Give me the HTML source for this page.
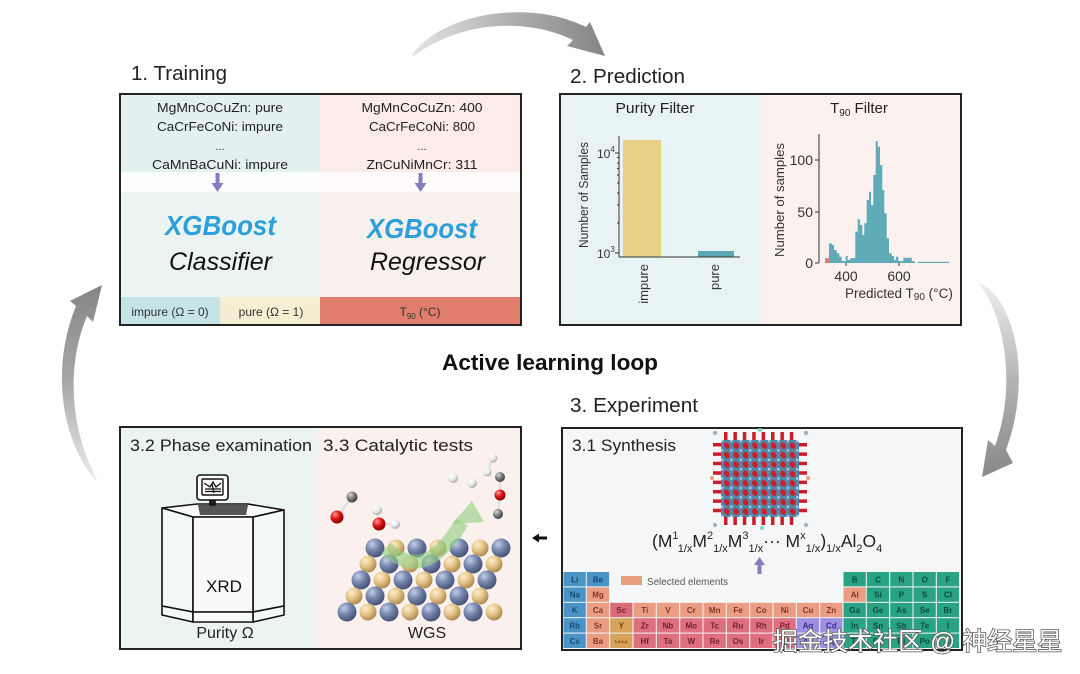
<!DOCTYPE html>
<html>
<head>
<meta charset="utf-8">
<style>
html,body{margin:0;padding:0;background:#fff;width:1080px;height:674px;overflow:hidden}
svg{display:block}
text{font-family:"Liberation Sans","Noto Sans CJK SC",sans-serif}
</style>
</head>
<body>
<svg width="1080" height="674" viewBox="0 0 1080 674" xmlns="http://www.w3.org/2000/svg">
<defs>
  <linearGradient id="gTop" gradientUnits="userSpaceOnUse" x1="412" y1="0" x2="605" y2="0">
    <stop offset="0" stop-color="#e6e6e6"/><stop offset="0.5" stop-color="#b0b0b0"/><stop offset="1" stop-color="#858585"/>
  </linearGradient>
  <linearGradient id="gLeft" gradientUnits="userSpaceOnUse" x1="0" y1="480" x2="0" y2="285">
    <stop offset="0" stop-color="#ececec"/><stop offset="0.5" stop-color="#a8a8a8"/><stop offset="1" stop-color="#858585"/>
  </linearGradient>
  <linearGradient id="gRight" gradientUnits="userSpaceOnUse" x1="0" y1="283" x2="0" y2="477">
    <stop offset="0" stop-color="#eeeeee"/><stop offset="0.5" stop-color="#b4b4b4"/><stop offset="1" stop-color="#888888"/>
  </linearGradient>
  <radialGradient id="sb" cx="35%" cy="30%" r="70%">
    <stop offset="0" stop-color="#c3cde6"/><stop offset="0.5" stop-color="#7686ae"/><stop offset="1" stop-color="#48557a"/>
  </radialGradient>
  <radialGradient id="st" cx="35%" cy="30%" r="70%">
    <stop offset="0" stop-color="#fcefcf"/><stop offset="0.5" stop-color="#e6c68c"/><stop offset="1" stop-color="#b08c52"/>
  </radialGradient>
  <radialGradient id="sg" cx="35%" cy="30%" r="70%">
    <stop offset="0" stop-color="#d8d8d8"/><stop offset="0.5" stop-color="#808080"/><stop offset="1" stop-color="#404040"/>
  </radialGradient>
  <radialGradient id="sr" cx="35%" cy="30%" r="70%">
    <stop offset="0" stop-color="#ff9a9a"/><stop offset="0.5" stop-color="#e01515"/><stop offset="1" stop-color="#8a0000"/>
  </radialGradient>
  <radialGradient id="sw" cx="35%" cy="30%" r="70%">
    <stop offset="0" stop-color="#ffffff"/><stop offset="0.6" stop-color="#e8e8e8"/><stop offset="1" stop-color="#a8a8a8"/>
  </radialGradient>
  <pattern id="redDots" patternUnits="userSpaceOnUse" x="722" y="441" width="9.4" height="9.4">
    <ellipse cx="4.7" cy="4.7" rx="2.6" ry="3.4" fill="#cc1d28" transform="rotate(-30 4.7 4.7)"/>
  </pattern>
  <pattern id="cyDots" patternUnits="userSpaceOnUse" x="726.7" y="445.7" width="9.4" height="9.4">
    <circle cx="4.7" cy="4.7" r="1.2" fill="#a8e0ea"/>
  </pattern>
</defs>

<!-- ===== Curved arrows ===== -->
<path d="M412,55 C440,14 528,-2 586,27 L590,22 L605,56 L567,46 L573,40 C528,18 462,20 414,56 Z" fill="url(#gTop)"/>
<path d="M95,480 C62,440 50,370 76,306 L70,301 L102,285 L93,322 L87,316 C66,365 70,430 97,479 Z" fill="url(#gLeft)"/>
<path d="M980,283 C1016,300 1032,380 1006,450 L1013,463 L982,477 L988,440 L995,446 C1016,388 1006,320 980,285 Z" fill="url(#gRight)"/>

<!-- ===== 1. Training ===== -->
<text x="131" y="80" font-size="20" fill="#222" textLength="96" lengthAdjust="spacingAndGlyphs">1. Training</text>
<rect x="120" y="94" width="200" height="78" fill="#e4f1f1"/>
<rect x="320" y="94" width="201" height="78" fill="#fbece7"/>
<rect x="120" y="172" width="200" height="20" fill="#fcfefe"/>
<rect x="320" y="172" width="201" height="20" fill="#fffbfa"/>
<rect x="120" y="192" width="200" height="105" fill="#ecf4f3"/>
<rect x="320" y="192" width="201" height="105" fill="#f8f0ed"/>
<rect x="120" y="297" width="100" height="28" fill="#c6e3e7"/>
<rect x="220" y="297" width="100" height="28" fill="#f5eed3"/>
<rect x="320" y="297" width="201" height="28" fill="#e07d6d"/>
<rect x="120" y="94" width="401" height="231" fill="none" stroke="#222" stroke-width="2"/>

<g font-size="13" fill="#222" text-anchor="middle">
  <text x="220" y="112" textLength="126" lengthAdjust="spacingAndGlyphs">MgMnCoCuZn: pure</text>
  <text x="220" y="131" textLength="126" lengthAdjust="spacingAndGlyphs">CaCrFeCoNi: impure</text>
  <text x="220" y="150" font-size="11">...</text>
  <text x="220" y="169" textLength="136" lengthAdjust="spacingAndGlyphs">CaMnBaCuNi: impure</text>
  <text x="422" y="112" textLength="121" lengthAdjust="spacingAndGlyphs">MgMnCoCuZn: 400</text>
  <text x="422" y="131" textLength="106" lengthAdjust="spacingAndGlyphs">CaCrFeCoNi: 800</text>
  <text x="422" y="150" font-size="11">...</text>
  <text x="422" y="169" textLength="111" lengthAdjust="spacingAndGlyphs">ZnCuNiMnCr: 311</text>
</g>
<!-- purple arrows -->
<g fill="#857cbf">
  <rect x="215.5" y="173" width="4" height="11"/><polygon points="211.5,183 223.5,183 217.5,192"/>
  <rect x="418.5" y="173" width="4" height="11"/><polygon points="414.5,183 426.5,183 420.5,192"/>
</g>
<text x="165" y="235" font-size="28" font-weight="bold" font-style="italic" fill="#2d9fd9" textLength="111" lengthAdjust="spacingAndGlyphs">XGBoost</text>
<text x="367" y="238" font-size="28" font-weight="bold" font-style="italic" fill="#2d9fd9" textLength="110" lengthAdjust="spacingAndGlyphs">XGBoost</text>
<text x="169" y="270" font-size="25" font-style="italic" fill="#111" textLength="103" lengthAdjust="spacingAndGlyphs">Classifier</text>
<text x="370" y="270" font-size="25" font-style="italic" fill="#111" textLength="115" lengthAdjust="spacingAndGlyphs">Regressor</text>
<g font-size="12" fill="#333" text-anchor="middle">
  <text x="170" y="316">impure (Ω = 0)</text>
  <text x="271" y="316">pure (Ω = 1)</text>
  <text x="420" y="316">T<tspan font-size="8" dy="3">90</tspan><tspan dy="-3"> (°C)</tspan></text>
</g>

<!-- ===== 2. Prediction ===== -->
<text x="570" y="83" font-size="20" fill="#222" textLength="115" lengthAdjust="spacingAndGlyphs">2. Prediction</text>
<rect x="560" y="94" width="201" height="231" fill="#e8f3f3"/>
<rect x="761" y="94" width="200" height="231" fill="#fbf2ef"/>
<rect x="560" y="94" width="401" height="231" fill="none" stroke="#222" stroke-width="2"/>

<text x="655" y="113" font-size="15" fill="#222" text-anchor="middle" textLength="79" lengthAdjust="spacingAndGlyphs">Purity Filter</text>
<text x="859" y="113" font-size="15" fill="#222" text-anchor="middle">T<tspan font-size="10" dy="3">90</tspan><tspan dy="-3"> Filter</tspan></text>

<!-- purity bar chart -->
<rect x="623" y="140" width="38" height="117" fill="#e8cf88"/>
<rect x="698" y="251" width="36" height="6" fill="#5aa8b6"/>
<line x1="619" y1="136" x2="619" y2="257" stroke="#333" stroke-width="1"/>
<line x1="619" y1="257" x2="740" y2="257" stroke="#333" stroke-width="1"/>
<g stroke="#333" stroke-width="1">
  <line x1="615" y1="153" x2="619" y2="153"/>
  <line x1="615" y1="253" x2="619" y2="253"/>
  <line x1="617" y1="223" x2="619" y2="223"/>
  <line x1="617" y1="205" x2="619" y2="205"/>
  <line x1="617" y1="193" x2="619" y2="193"/>
  <line x1="617" y1="183" x2="619" y2="183"/>
  <line x1="617" y1="175" x2="619" y2="175"/>
  <line x1="617" y1="168.5" x2="619" y2="168.5"/>
  <line x1="617" y1="163" x2="619" y2="163"/>
  <line x1="617" y1="157.5" x2="619" y2="157.5"/>
</g>
<g font-size="12" fill="#333">
  <text x="597" y="158">10<tspan font-size="8" dy="-6">4</tspan></text>
  <text x="597" y="258">10<tspan font-size="8" dy="-6">3</tspan></text>
</g>
<text transform="translate(588,195) rotate(-90)" font-size="12.5" fill="#333" text-anchor="middle" textLength="106" lengthAdjust="spacingAndGlyphs">Number of Samples</text>
<text transform="translate(648,264) rotate(-90)" font-size="13" fill="#333" text-anchor="end">impure</text>
<text transform="translate(719,264) rotate(-90)" font-size="13" fill="#333" text-anchor="end">pure</text>

<!-- histogram -->
<rect x="825" y="258.3" width="4" height="4.7" fill="#df7a6a"/>
<path d="M829,263 V243.3 H831.7 V245 H834 V250 H836.7 V253.3 H839.3 V256.7 H841.7 V261 H845.7 V256 H847.7 V260 H850 V258.3 H855.3 V231.7 H857.7 V219.3 H860 V225 H862.3 V235 H864.3 V223.3 H866.7 V200 H869 V191.7 H871 V205 H873.3 V175 H875.7 V141 H877.7 V146.7 H880 V165 H882.3 V190 H884.3 V213.3 H886.7 V238.3 H889 V253.3 H891.7 V256 H894 V260 H896 V256.7 H898.3 V261 H903.3 V257.7 H911.7 V261.3 H915 V263 Z" fill="#5fabb8"/>
<rect x="918" y="261.8" width="31" height="1.2" fill="#5fabb8"/>
<line x1="819" y1="134" x2="819" y2="263" stroke="#333" stroke-width="1"/>
<g stroke="#333" stroke-width="1">
  <line x1="815" y1="160" x2="819" y2="160"/>
  <line x1="815" y1="212" x2="819" y2="212"/>
  <line x1="815" y1="263" x2="819" y2="263"/>
  <line x1="846" y1="263" x2="846" y2="266"/>
  <line x1="899" y1="263" x2="899" y2="266"/>
</g>
<g font-size="14" fill="#333" text-anchor="end">
  <text x="813" y="165">100</text>
  <text x="813" y="217">50</text>
  <text x="813" y="268">0</text>
</g>
<g font-size="14" fill="#333" text-anchor="middle">
  <text x="846" y="281">400</text>
  <text x="899" y="281">600</text>
</g>
<text x="845" y="298" font-size="13.5" fill="#333">Predicted T<tspan font-size="10" dy="2">90</tspan><tspan dy="-2"> (°C)</tspan></text>
<text transform="translate(784,200) rotate(-90)" font-size="13" fill="#333" text-anchor="middle" textLength="114" lengthAdjust="spacingAndGlyphs">Number of samples</text>

<!-- ===== Active learning loop ===== -->
<text x="550" y="370" font-size="22" font-weight="bold" fill="#111" text-anchor="middle" textLength="216" lengthAdjust="spacingAndGlyphs">Active learning loop</text>

<!-- ===== 3. Experiment ===== -->
<text x="570" y="412" font-size="20" fill="#222" textLength="128" lengthAdjust="spacingAndGlyphs">3. Experiment</text>
<rect x="562" y="428" width="400" height="222" fill="#f5f6f8" stroke="#222" stroke-width="2"/>
<text x="572" y="451" font-size="17" fill="#222" textLength="104" lengthAdjust="spacingAndGlyphs">3.1 Synthesis</text>

<!-- crystal -->
<g>
  <line x1="724" y1="436" x2="798" y2="436" stroke="#c81e28" stroke-width="8" stroke-dasharray="3.5 5.9"/>
  <line x1="724" y1="521" x2="798" y2="521" stroke="#c81e28" stroke-width="8" stroke-dasharray="3.5 5.9"/>
  <line x1="717" y1="443" x2="717" y2="516" stroke="#c81e28" stroke-width="8" stroke-dasharray="3.5 5.9"/>
  <line x1="803" y1="443" x2="803" y2="516" stroke="#c81e28" stroke-width="8" stroke-dasharray="3.5 5.9"/>
  <rect x="721" y="440" width="78" height="77" rx="3" fill="#5785a5"/>
  <rect x="721" y="440" width="78" height="77" fill="url(#cyDots)"/>
  <rect x="721" y="440" width="78" height="77" fill="url(#redDots)"/>
  <g fill="#9fb4bf">
    <circle cx="715" cy="433" r="2.2"/><circle cx="806" cy="433" r="2.2"/>
    <circle cx="715" cy="525" r="2.2"/><circle cx="806" cy="525" r="2.2"/>
    <circle cx="760" cy="430" r="2" fill="#7fd2c8"/><circle cx="762" cy="528" r="2" fill="#7fd2c8"/>
    <circle cx="712" cy="478" r="2" fill="#e0a070"/><circle cx="808" cy="478" r="2" fill="#e0a070"/>
  </g>
</g>
<!-- formula -->
<text x="652" y="547" font-size="17.5" fill="#222">(M<tspan font-size="11" dy="-8">1</tspan><tspan font-size="11" dy="13">1/x</tspan><tspan dy="-5">M</tspan><tspan font-size="11" dy="-8">2</tspan><tspan font-size="11" dy="13">1/x</tspan><tspan dy="-5">M</tspan><tspan font-size="11" dy="-8">3</tspan><tspan font-size="11" dy="13">1/x</tspan><tspan dy="-5">··· M</tspan><tspan font-size="11" dy="-8">x</tspan><tspan font-size="11" dy="13">1/x</tspan><tspan dy="-5">)</tspan><tspan font-size="11" dy="5">1/x</tspan><tspan dy="-5">Al</tspan><tspan font-size="11" dy="5">2</tspan><tspan dy="-5">O</tspan><tspan font-size="11" dy="5">4</tspan></text>
<g fill="#857cbf">
  <polygon points="759.5,557 754,565 765,565"/>
  <rect x="757.5" y="564" width="4" height="10"/>
</g>

<!-- legend -->
<rect x="621" y="576" width="21" height="9" fill="#eb9d83"/>
<text x="647" y="585" font-size="10" fill="#555" textLength="81" lengthAdjust="spacingAndGlyphs">Selected elements</text>

<!-- periodic table -->
<g font-size="8" font-weight="bold" text-anchor="middle">
  <!-- row 0 -->
  <rect x="563.5" y="572" width="22.3" height="14.4" fill="#4a95c6"/><text x="574.7" y="582.3" fill="#17456e">Li</text>
  <rect x="586.8" y="572" width="22.3" height="14.4" fill="#4a95c6"/><text x="598" y="582.3" fill="#17456e">Be</text>
  <rect x="843.5" y="572" width="22.3" height="14.4" fill="#2aa385"/><text x="854.7" y="582.3" fill="#0a4d3b">B</text>
  <rect x="866.8" y="572" width="22.3" height="14.4" fill="#2aa385"/><text x="878" y="582.3" fill="#0a4d3b">C</text>
  <rect x="890.2" y="572" width="22.3" height="14.4" fill="#2aa385"/><text x="901.3" y="582.3" fill="#0a4d3b">N</text>
  <rect x="913.5" y="572" width="22.3" height="14.4" fill="#2aa385"/><text x="924.7" y="582.3" fill="#0a4d3b">O</text>
  <rect x="936.8" y="572" width="22.3" height="14.4" fill="#2aa385"/><text x="948" y="582.3" fill="#0a4d3b">F</text>
  <!-- row 1 -->
  <rect x="563.5" y="587.4" width="22.3" height="14.4" fill="#4a95c6"/><text x="574.7" y="597.7" fill="#17456e">Na</text>
  <rect x="586.8" y="587.4" width="22.3" height="14.4" fill="#eb9d83"/><text x="598" y="597.7" fill="#80361f">Mg</text>
  <rect x="843.5" y="587.4" width="22.3" height="14.4" fill="#eb9d83"/><text x="854.7" y="597.7" fill="#80361f">Al</text>
  <rect x="866.8" y="587.4" width="22.3" height="14.4" fill="#2aa385"/><text x="878" y="597.7" fill="#0a4d3b">Si</text>
  <rect x="890.2" y="587.4" width="22.3" height="14.4" fill="#2aa385"/><text x="901.3" y="597.7" fill="#0a4d3b">P</text>
  <rect x="913.5" y="587.4" width="22.3" height="14.4" fill="#2aa385"/><text x="924.7" y="597.7" fill="#0a4d3b">S</text>
  <rect x="936.8" y="587.4" width="22.3" height="14.4" fill="#2aa385"/><text x="948" y="597.7" fill="#0a4d3b">Cl</text>
  <!-- row 2 -->
  <rect x="563.5" y="602.8" width="22.3" height="14.4" fill="#4a95c6"/><text x="574.7" y="613.1" fill="#17456e">K</text>
  <rect x="586.8" y="602.8" width="22.3" height="14.4" fill="#eb9d83"/><text x="598" y="613.1" fill="#80361f">Ca</text>
  <rect x="610.2" y="602.8" width="22.3" height="14.4" fill="#d86c79"/><text x="621.3" y="613.1" fill="#70202e">Sc</text>
  <rect x="633.5" y="602.8" width="22.3" height="14.4" fill="#eb9d83"/><text x="644.7" y="613.1" fill="#80361f">Ti</text>
  <rect x="656.8" y="602.8" width="22.3" height="14.4" fill="#eb9d83"/><text x="668" y="613.1" fill="#80361f">V</text>
  <rect x="680.2" y="602.8" width="22.3" height="14.4" fill="#eb9d83"/><text x="691.3" y="613.1" fill="#80361f">Cr</text>
  <rect x="703.5" y="602.8" width="22.3" height="14.4" fill="#eb9d83"/><text x="714.7" y="613.1" fill="#80361f">Mn</text>
  <rect x="726.8" y="602.8" width="22.3" height="14.4" fill="#eb9d83"/><text x="738" y="613.1" fill="#80361f">Fe</text>
  <rect x="750.2" y="602.8" width="22.3" height="14.4" fill="#eb9d83"/><text x="761.3" y="613.1" fill="#80361f">Co</text>
  <rect x="773.5" y="602.8" width="22.3" height="14.4" fill="#eb9d83"/><text x="784.7" y="613.1" fill="#80361f">Ni</text>
  <rect x="796.8" y="602.8" width="22.3" height="14.4" fill="#eb9d83"/><text x="808" y="613.1" fill="#80361f">Cu</text>
  <rect x="820.2" y="602.8" width="22.3" height="14.4" fill="#eb9d83"/><text x="831.3" y="613.1" fill="#80361f">Zn</text>
  <rect x="843.5" y="602.8" width="22.3" height="14.4" fill="#2aa385"/><text x="854.7" y="613.1" fill="#0a4d3b">Ga</text>
  <rect x="866.8" y="602.8" width="22.3" height="14.4" fill="#2aa385"/><text x="878" y="613.1" fill="#0a4d3b">Ge</text>
  <rect x="890.2" y="602.8" width="22.3" height="14.4" fill="#2aa385"/><text x="901.3" y="613.1" fill="#0a4d3b">As</text>
  <rect x="913.5" y="602.8" width="22.3" height="14.4" fill="#2aa385"/><text x="924.7" y="613.1" fill="#0a4d3b">Se</text>
  <rect x="936.8" y="602.8" width="22.3" height="14.4" fill="#2aa385"/><text x="948" y="613.1" fill="#0a4d3b">Br</text>
  <!-- row 3 -->
  <rect x="563.5" y="618.2" width="22.3" height="14.4" fill="#4a95c6"/><text x="574.7" y="628.5" fill="#17456e">Rb</text>
  <rect x="586.8" y="618.2" width="22.3" height="14.4" fill="#eb9d83"/><text x="598" y="628.5" fill="#80361f">Sr</text>
  <rect x="610.2" y="618.2" width="22.3" height="14.4" fill="#d7a25a"/><text x="621.3" y="628.5" fill="#6b4410">Y</text>
  <rect x="633.5" y="618.2" width="22.3" height="14.4" fill="#dd6f7f"/><text x="644.7" y="628.5" fill="#70202e">Zr</text>
  <rect x="656.8" y="618.2" width="22.3" height="14.4" fill="#dd6f7f"/><text x="668" y="628.5" fill="#70202e">Nb</text>
  <rect x="680.2" y="618.2" width="22.3" height="14.4" fill="#dd6f7f"/><text x="691.3" y="628.5" fill="#70202e">Mo</text>
  <rect x="703.5" y="618.2" width="22.3" height="14.4" fill="#dd6f7f"/><text x="714.7" y="628.5" fill="#70202e">Tc</text>
  <rect x="726.8" y="618.2" width="22.3" height="14.4" fill="#dd6f7f"/><text x="738" y="628.5" fill="#70202e">Ru</text>
  <rect x="750.2" y="618.2" width="22.3" height="14.4" fill="#dd6f7f"/><text x="761.3" y="628.5" fill="#70202e">Rh</text>
  <rect x="773.5" y="618.2" width="22.3" height="14.4" fill="#dd6f7f"/><text x="784.7" y="628.5" fill="#70202e">Pd</text>
  <rect x="796.8" y="618.2" width="22.3" height="14.4" fill="#9d90e2"/><text x="808" y="628.5" fill="#3b2c8a">Ag</text>
  <rect x="820.2" y="618.2" width="22.3" height="14.4" fill="#9d90e2"/><text x="831.3" y="628.5" fill="#3b2c8a">Cd</text>
  <rect x="843.5" y="618.2" width="22.3" height="14.4" fill="#2aa385"/><text x="854.7" y="628.5" fill="#0a4d3b">In</text>
  <rect x="866.8" y="618.2" width="22.3" height="14.4" fill="#2aa385"/><text x="878" y="628.5" fill="#0a4d3b">Sn</text>
  <rect x="890.2" y="618.2" width="22.3" height="14.4" fill="#2aa385"/><text x="901.3" y="628.5" fill="#0a4d3b">Sb</text>
  <rect x="913.5" y="618.2" width="22.3" height="14.4" fill="#2aa385"/><text x="924.7" y="628.5" fill="#0a4d3b">Te</text>
  <rect x="936.8" y="618.2" width="22.3" height="14.4" fill="#2aa385"/><text x="948" y="628.5" fill="#0a4d3b">I</text>
  <!-- row 4 -->
  <rect x="563.5" y="633.6" width="22.3" height="14.4" fill="#4a95c6"/><text x="574.7" y="643.9" fill="#17456e">Cs</text>
  <rect x="586.8" y="633.6" width="22.3" height="14.4" fill="#eb9d83"/><text x="598" y="643.9" fill="#80361f">Ba</text>
  <rect x="610.2" y="633.6" width="22.3" height="14.4" fill="#d7a25a"/><text x="621.3" y="643" font-size="4.5" fill="#6b4410">La-Lu</text>
  <rect x="633.5" y="633.6" width="22.3" height="14.4" fill="#dd6f7f"/><text x="644.7" y="643.9" fill="#70202e">Hf</text>
  <rect x="656.8" y="633.6" width="22.3" height="14.4" fill="#dd6f7f"/><text x="668" y="643.9" fill="#70202e">Ta</text>
  <rect x="680.2" y="633.6" width="22.3" height="14.4" fill="#dd6f7f"/><text x="691.3" y="643.9" fill="#70202e">W</text>
  <rect x="703.5" y="633.6" width="22.3" height="14.4" fill="#dd6f7f"/><text x="714.7" y="643.9" fill="#70202e">Re</text>
  <rect x="726.8" y="633.6" width="22.3" height="14.4" fill="#dd6f7f"/><text x="738" y="643.9" fill="#70202e">Os</text>
  <rect x="750.2" y="633.6" width="22.3" height="14.4" fill="#dd6f7f"/><text x="761.3" y="643.9" fill="#70202e">Ir</text>
  <rect x="773.5" y="633.6" width="22.3" height="14.4" fill="#dd6f7f"/><text x="784.7" y="643.9" fill="#70202e">Pt</text>
  <rect x="796.8" y="633.6" width="22.3" height="14.4" fill="#9d90e2"/><text x="808" y="643.9" fill="#3b2c8a">Au</text>
  <rect x="820.2" y="633.6" width="22.3" height="14.4" fill="#9d90e2"/><text x="831.3" y="643.9" fill="#3b2c8a">Hg</text>
  <rect x="843.5" y="633.6" width="22.3" height="14.4" fill="#2aa385"/><text x="854.7" y="643.9" fill="#0a4d3b">Tl</text>
  <rect x="866.8" y="633.6" width="22.3" height="14.4" fill="#2aa385"/><text x="878" y="643.9" fill="#0a4d3b">Pb</text>
  <rect x="890.2" y="633.6" width="22.3" height="14.4" fill="#2aa385"/><text x="901.3" y="643.9" fill="#0a4d3b">Bi</text>
  <rect x="913.5" y="633.6" width="22.3" height="14.4" fill="#2aa385"/><text x="924.7" y="643.9" fill="#0a4d3b">Po</text>
  <rect x="936.8" y="633.6" width="22.3" height="14.4" fill="#2aa385"/><text x="948" y="643.9" fill="#0a4d3b">At</text>
</g>

<!-- small black arrow -->
<polygon points="532,538 539,533.5 539,536.5 547,536.5 547,539.5 539,539.5 539,542.5" fill="#111"/>

<!-- ===== 3.2 / 3.3 panel ===== -->
<rect x="120" y="427" width="198" height="222" fill="#ecf4f2"/>
<rect x="318" y="427" width="203" height="222" fill="#faf1ee"/>
<rect x="120" y="427" width="401" height="222" fill="none" stroke="#222" stroke-width="2"/>
<text x="130" y="451" font-size="17" fill="#222" textLength="182" lengthAdjust="spacingAndGlyphs">3.2 Phase examination</text>
<text x="323" y="451" font-size="17" fill="#222" textLength="150" lengthAdjust="spacingAndGlyphs">3.3 Catalytic tests</text>

<!-- XRD machine -->
<g stroke="#111" stroke-width="1.6" stroke-linejoin="round">
  <polygon points="162,508 197,504 248,504 284,510 253,517 193,517" fill="#f8faf9"/>
  <polygon points="198,505 248,505 246,515 200,515" fill="#555" stroke="none"/>
  <polygon points="162,508 193,517 193,612 162,606" fill="#f4f8f7"/>
  <polygon points="253,517 284,510 284,606 253,612" fill="#f4f8f7"/>
  <rect x="193" y="517" width="60" height="95" fill="#f8faf9"/>
  <polygon points="162,606 193,612 193,622 162,615" fill="#f4f8f7"/>
  <polygon points="253,612 284,606 284,615 253,622" fill="#f4f8f7"/>
  <rect x="193" y="612" width="60" height="10" fill="#f8faf9"/>
  <rect x="210" y="499" width="5" height="6" fill="#222"/>
  <rect x="197" y="475" width="31" height="25" rx="3" fill="#fff"/>
  <rect x="202" y="479" width="21" height="16" rx="1" fill="#fff" stroke-width="1.4"/>
</g>
<g stroke="#111" stroke-width="1.3" fill="none">
  <polyline points="204,483 210,487 213,482 216,487 221,483"/>
  <line x1="205" y1="489" x2="221" y2="489"/>
  <line x1="205" y1="491.5" x2="221" y2="491.5"/>
  <line x1="212" y1="484" x2="214" y2="493"/>
</g>
<text x="224" y="592" font-size="17" fill="#111" text-anchor="middle">XRD</text>
<text x="225" y="638" font-size="16" fill="#222" text-anchor="middle">Purity Ω</text>
<text x="427" y="638" font-size="16" fill="#222" text-anchor="middle">WGS</text>

<!-- catalyst spheres -->
<g>
  <circle cx="375" cy="548" r="9.5" fill="url(#sb)"/><circle cx="396" cy="548" r="8.5" fill="url(#st)"/><circle cx="417" cy="548" r="9.5" fill="url(#sb)"/><circle cx="438" cy="548" r="8.5" fill="url(#st)"/><circle cx="459" cy="548" r="9.5" fill="url(#sb)"/><circle cx="480" cy="548" r="8.5" fill="url(#st)"/><circle cx="501" cy="548" r="9.5" fill="url(#sb)"/>
  <circle cx="368" cy="564" r="8.5" fill="url(#st)"/><circle cx="389" cy="564" r="9.5" fill="url(#sb)"/><circle cx="410" cy="564" r="8.5" fill="url(#st)"/><circle cx="431" cy="564" r="9.5" fill="url(#sb)"/><circle cx="452" cy="564" r="8.5" fill="url(#st)"/><circle cx="473" cy="564" r="9.5" fill="url(#sb)"/><circle cx="494" cy="564" r="8.5" fill="url(#st)"/>
  <circle cx="361" cy="580" r="9.5" fill="url(#sb)"/><circle cx="382" cy="580" r="8.5" fill="url(#st)"/><circle cx="403" cy="580" r="9.5" fill="url(#sb)"/><circle cx="424" cy="580" r="8.5" fill="url(#st)"/><circle cx="445" cy="580" r="9.5" fill="url(#sb)"/><circle cx="466" cy="580" r="8.5" fill="url(#st)"/><circle cx="487" cy="580" r="9.5" fill="url(#sb)"/>
  <circle cx="354" cy="596" r="8.5" fill="url(#st)"/><circle cx="375" cy="596" r="9.5" fill="url(#sb)"/><circle cx="396" cy="596" r="8.5" fill="url(#st)"/><circle cx="417" cy="596" r="9.5" fill="url(#sb)"/><circle cx="438" cy="596" r="8.5" fill="url(#st)"/><circle cx="459" cy="596" r="9.5" fill="url(#sb)"/><circle cx="480" cy="596" r="8.5" fill="url(#st)"/>
  <circle cx="347" cy="612" r="9.5" fill="url(#sb)"/><circle cx="368" cy="612" r="8.5" fill="url(#st)"/><circle cx="389" cy="612" r="9.5" fill="url(#sb)"/><circle cx="410" cy="612" r="8.5" fill="url(#st)"/><circle cx="431" cy="612" r="9.5" fill="url(#sb)"/><circle cx="452" cy="612" r="8.5" fill="url(#st)"/><circle cx="473" cy="612" r="9.5" fill="url(#sb)"/><circle cx="494" cy="612" r="8.5" fill="url(#st)"/>
</g>
<!-- green arrow -->
<path d="M386,548 Q425,585 462,522" fill="none" stroke="#8fcf7e" stroke-opacity="0.6" stroke-width="14"/>
<polygon points="472,501 452,524 484,522" fill="#8fcf7e" fill-opacity="0.6"/>
<!-- molecules -->
<g stroke="#ddd" stroke-width="2"><line x1="352" y1="497" x2="337" y2="517"/><line x1="377" y1="510" x2="379" y2="524"/><line x1="379" y1="524" x2="395" y2="524"/><line x1="500" y1="477" x2="500" y2="495"/><line x1="500" y1="495" x2="498" y2="514"/><line x1="487" y1="472" x2="493" y2="458"/></g>
<circle cx="352" cy="497" r="5.5" fill="url(#sg)"/>
<circle cx="337" cy="517" r="6.5" fill="url(#sr)"/>
<circle cx="377" cy="510" r="5" fill="url(#sw)"/>
<circle cx="379" cy="524" r="6.5" fill="url(#sr)"/>
<circle cx="395" cy="524" r="5" fill="url(#sw)"/>
<circle cx="453" cy="478" r="5" fill="url(#sw)"/>
<circle cx="472" cy="483" r="5" fill="url(#sw)"/>
<circle cx="487" cy="472" r="4.5" fill="url(#sw)"/>
<circle cx="493" cy="458" r="4.5" fill="url(#sw)"/>
<circle cx="500" cy="477" r="5" fill="url(#sg)"/>
<circle cx="500" cy="495" r="5.5" fill="url(#sr)"/>
<circle cx="498" cy="514" r="5" fill="url(#sg)"/>

<!-- watermark -->
<text x="773" y="650" font-size="25" fill="#ffffff" stroke="#5a5a5a" stroke-width="1.6" paint-order="stroke" style="font-family:'Liberation Sans','Noto Sans CJK SC',sans-serif">掘金技术社区 @ 神经星星</text>
</svg>
</body>
</html>
